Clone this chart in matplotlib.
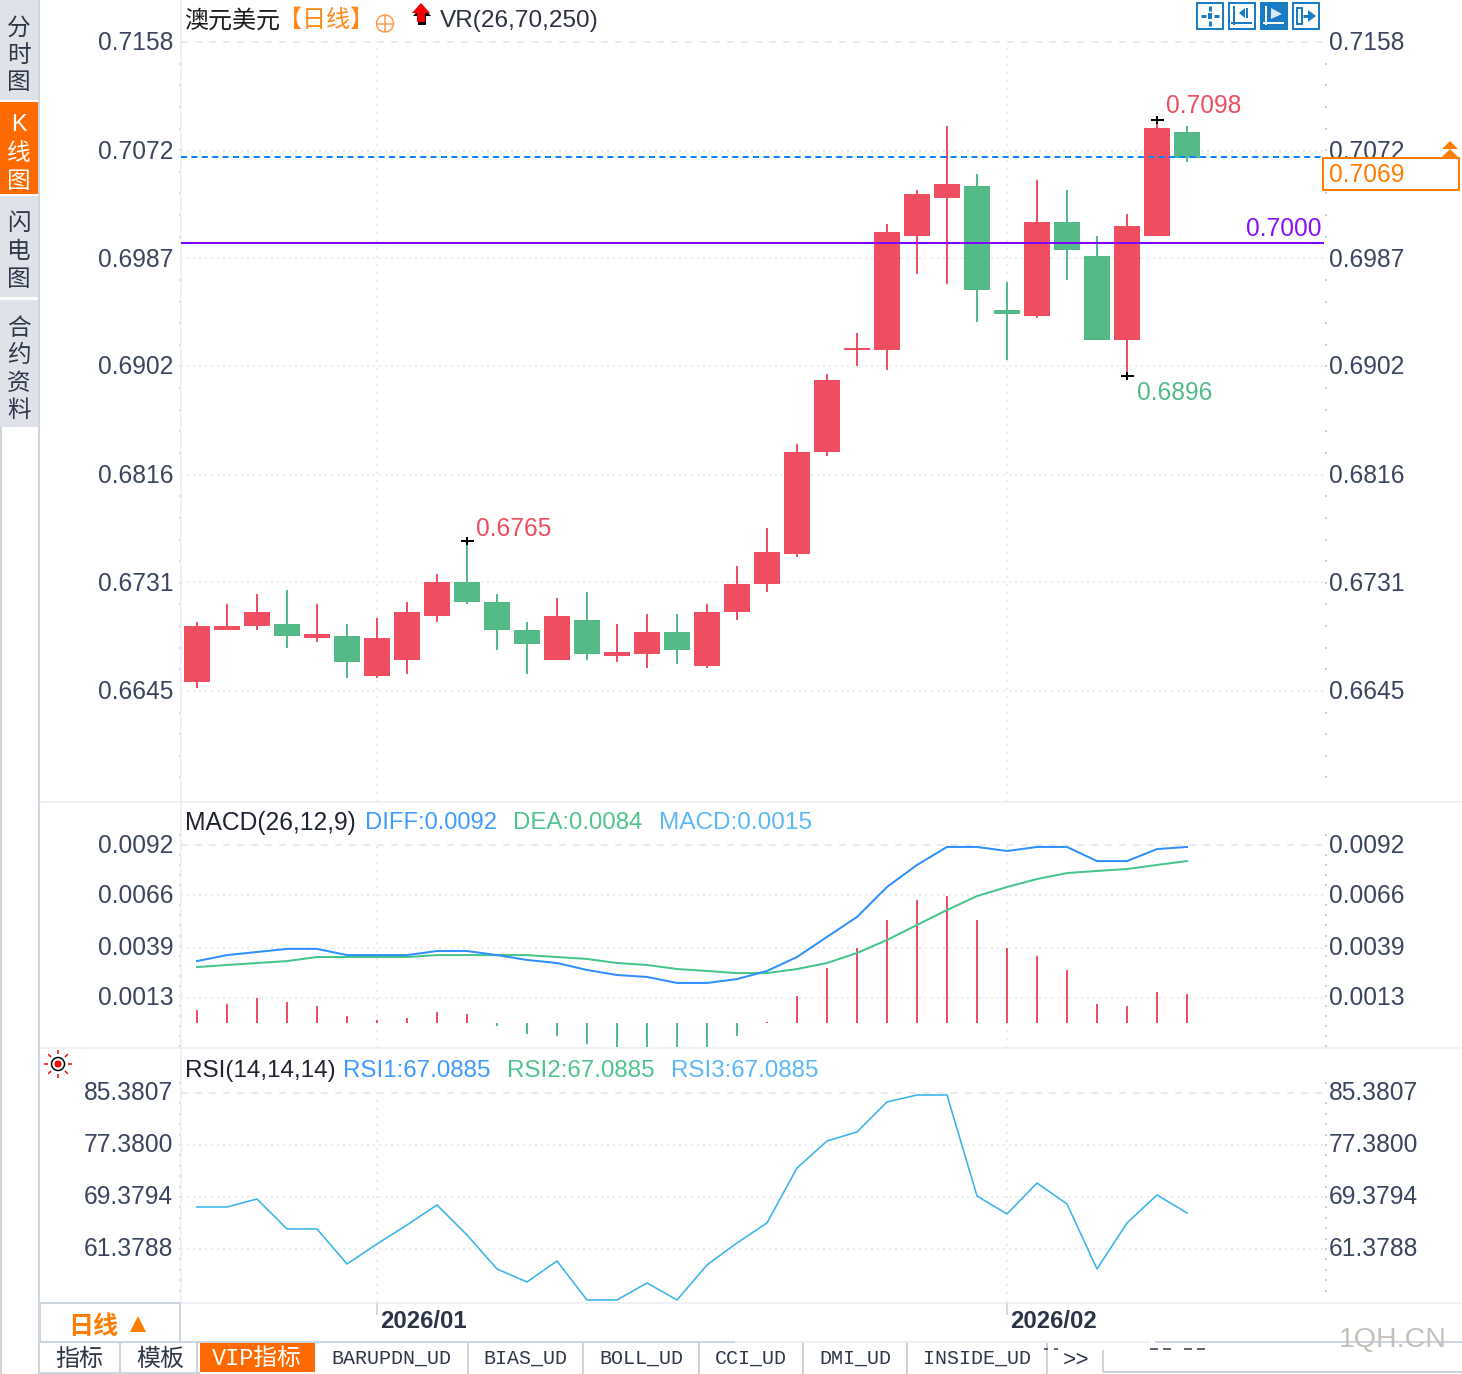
import matplotlib
matplotlib.use("Agg")

import matplotlib.pyplot as plt
from matplotlib.patches import Circle, Polygon, Rectangle
from matplotlib.transforms import ScaledTranslation

plt.rcParams["font.family"] = ["Liberation Sans", "Noto Sans CJK SC", "DejaVu Sans"]

# candles, one per day
opens = [0.66521, 0.66932, 0.66964, 0.66979, 0.66869, 0.66884, 0.66568, 0.66695, 0.67043, 0.67311,
         0.67153, 0.66932, 0.66695, 0.67011, 0.66726, 0.66742, 0.66916, 0.66647, 0.67074, 0.67295,
         0.67533, 0.68339, 0.69145, 0.69145, 0.70046, 0.70347, 0.70442, 0.69461, 0.69414, 0.70157,
         0.69888, 0.69224, 0.70046, 0.70869]
closes = [0.66964, 0.66964, 0.67074, 0.66884, 0.66900, 0.66679, 0.66869, 0.67074, 0.67311, 0.67153,
          0.66932, 0.66821, 0.67043, 0.66742, 0.66758, 0.66916, 0.66774, 0.67074, 0.67295, 0.67548,
          0.68339, 0.68908, 0.69161, 0.70078, 0.70378, 0.70457, 0.69620, 0.69430, 0.70157, 0.69936,
          0.69224, 0.70125, 0.70900, 0.70663]
highs = [0.66995, 0.67137, 0.67216, 0.67248, 0.67137, 0.66979, 0.67027, 0.67153, 0.67375, 0.67635,
         0.67216, 0.66995, 0.67185, 0.67232, 0.66979, 0.67058, 0.67058, 0.67137, 0.67438, 0.67738,
         0.68402, 0.68956, 0.69280, 0.70141, 0.70410, 0.70916, 0.70537, 0.69683, 0.70489, 0.70410,
         0.70046, 0.70220, 0.70963, 0.70916]
lows = [0.66473, 0.66932, 0.66932, 0.66790, 0.66837, 0.66552, 0.66552, 0.66584, 0.66995, 0.67137,
        0.66774, 0.66584, 0.66695, 0.66695, 0.66679, 0.66631, 0.66663, 0.66631, 0.67011, 0.67232,
        0.67509, 0.68307, 0.69019, 0.68987, 0.69746, 0.69667, 0.69367, 0.69066, 0.69398, 0.69699,
        0.69224, 0.68940, 0.70046, 0.70631]

# lower panels
diff = [0.00320, 0.00351, 0.00367, 0.00383, 0.00383, 0.00351, 0.00351, 0.00351, 0.00372, 0.00372,
        0.00351, 0.00326, 0.00310, 0.00274, 0.00248, 0.00238, 0.00207, 0.00207, 0.00227, 0.00269,
        0.00341, 0.00445, 0.00548, 0.00703, 0.00817, 0.00910, 0.00910, 0.00889, 0.00910, 0.00910,
        0.00837, 0.00837, 0.00899, 0.00910]
dea = [0.00289, 0.00300, 0.00310, 0.00320, 0.00341, 0.00341, 0.00341, 0.00341, 0.00351, 0.00351,
       0.00351, 0.00351, 0.00341, 0.00331, 0.00310, 0.00300, 0.00279, 0.00269, 0.00258, 0.00258,
       0.00279, 0.00310, 0.00362, 0.00429, 0.00507, 0.00584, 0.00656, 0.00703, 0.00744, 0.00775,
       0.00786, 0.00796, 0.00817, 0.00837]
macd_hist = [0.00067, 0.00098, 0.00129, 0.00109, 0.00088, 0.00036, 0.00016, 0.00026, 0.00057, 0.00047,
             -0.00016, -0.00057, -0.00067, -0.00109, -0.00134, -0.00145, -0.00145, -0.00124, -0.00067, 0.00005,
             0.00140, 0.00284, 0.00388, 0.00532, 0.00636, 0.00656, 0.00532, 0.00388, 0.00346, 0.00274,
             0.00098, 0.00088, 0.00160, 0.00150]
rsi = [67.84, 67.84, 69.07, 64.46, 64.46, 59.07, 62.15, 65.07, 68.15, 63.53,
       58.30, 56.30, 59.53, 53.53, 53.53, 56.15, 53.53, 58.92, 62.30, 65.38,
       73.84, 77.99, 79.38, 84.00, 85.07, 85.07, 69.53, 66.76, 71.53, 68.30,
       58.30, 65.38, 69.69, 66.92]

price_ticks = [0.7158, 0.7072, 0.6987, 0.6902, 0.6816, 0.6731, 0.6645]
price_labels = ["0.7158", "0.7072", "0.6987", "0.6902", "0.6816", "0.6731", "0.6645"]
macd_ticks = [0.0092, 0.0066, 0.0039, 0.0013]
macd_labels = ["0.0092", "0.0066", "0.0039", "0.0013"]
rsi_ticks = [85.3807, 77.38, 69.3794, 61.3788]
rsi_labels = ["85.3807", "77.3800", "69.3794", "61.3788"]
month_pos = [6, 27]
month_labels = ["2026/01", "2026/02"]
last_price = 0.70671
ref_price = 0.69991
marked = [(9, 0.67635), (31, 0.68940), (32, 0.70963)]

RED = "#ee4e5f"
GREEN = "#53ba88"
GRID = "#e8ecf0"
AXIS = "#edf1f5"
BORDER = "#cdd6df"
TICK = "#3b4560"
DARK = "#2f3848"
ORANGE = "#ff7d00"
LBLUE = "#3f9bff"
LGREEN = "#4fc48d"
SKY = "#5bb8f5"

W, H = 1462, 1374
fig = plt.figure(figsize=(W / 100, H / 100), dpi=100, facecolor="white")
PX = 0.72  # one pixel in points


def panel(top, bottom, ylim, ticks, labels, minor, lift):
    a = fig.add_axes([181 / W, 1 - bottom / H, (1325 - 181) / W, (bottom - top) / H])
    a.set_xlim(-0.533, 37.6)
    a.set_ylim(*ylim)
    a.patch.set_alpha(0)
    for s in ["top", "right", "bottom"]:
        a.spines[s].set_visible(False)
    a.spines["left"].set_color(AXIS)
    a.spines["left"].set_linewidth(2 * PX)
    a.set_xticks([])
    a.set_yticks(ticks, labels)
    a.tick_params(axis="y", length=0, pad=5.5, labelsize=17.7, labelcolor=TICK,
                  left=False, labelleft=True, labelright=True)
    a.set_yticks(minor, minor=True)
    a.tick_params(axis="y", which="minor", length=2 * PX, width=2 * PX, color="#c9d0d8",
                  left=True, right=True)
    # nudge the tick labels to where the reference has them
    left_off = ScaledTranslation(0, lift * PX / 72, fig.dpi_scale_trans)
    right_off = ScaledTranslation(-4 * PX / 72, lift * PX / 72, fig.dpi_scale_trans)
    for t in a.yaxis.get_major_ticks():
        t.label1.set_transform(t.label1.get_transform() + left_off)
        t.label2.set_transform(t.label2.get_transform() + right_off)
    a.axhline(ticks[0], xmax=0.998, color=GRID, lw=2 * PX, ls=(0, (3.5, 3.5)), zorder=1)
    for t in ticks[1:]:
        a.axhline(t, xmax=0.998, color=GRID, lw=2 * PX, ls=(0, (1, 2)), zorder=1)
    for m in month_pos:
        a.vlines(m, ylim[0], ticks[0], color=GRID, lw=2 * PX, ls=(0, (1, 3)), zorder=1)
    return a


def minor_ticks(first, step, lo, hi):
    out = []
    v = first
    while v > lo:
        if v < hi:
            out.append(v)
        v -= step
    return out


days = list(range(len(opens)))

# main panel
ax = panel(0, 802, (0.65572, 0.71912), price_ticks, price_labels,
           minor_ticks(0.7158 + 0.00171, 0.00171, 0.6565, 0.7175), 1)
for i in days:
    col = RED if closes[i] >= opens[i] else GREEN
    ax.vlines(i, lows[i], highs[i], color=col, lw=2 * PX, zorder=3)
    ax.bar(i, abs(closes[i] - opens[i]), bottom=min(opens[i], closes[i]), width=26 / 30,
           color=col, linewidth=0, zorder=3)
ax.axhline(ref_price, xmax=0.998, color="#8000ff", lw=2 * PX, zorder=4)
ax.axhline(last_price, xmax=0.998, color="#0a84ff", lw=2 * PX, ls=(0, (3, 2.2)), zorder=4)
for i, p in marked:
    ax.plot(i, p, marker="_", ms=13 * PX, mew=2 * PX, color="black", zorder=5)
    ax.plot(i, p, marker="|", ms=8 * PX, mew=2 * PX, color="black", zorder=5)
ax.annotate("0.7098", (32, 0.70963), xytext=(6.8, 9.8), textcoords="offset points",
            color=RED, fontsize=17.7, va="center")
ax.annotate("0.6896", (31, 0.68940), xytext=(7, -12), textcoords="offset points",
            color=GREEN, fontsize=17.7, va="center")
ax.annotate("0.6765", (9, 0.67635), xytext=(6.4, 9), textcoords="offset points",
            color=RED, fontsize=17.7, va="center")
ax.annotate("0.7000", (37.5, ref_price), xytext=(0, 10), textcoords="offset points",
            color="#8a12f0", fontsize=17.7, ha="right", va="center")

# macd panel
k = 5.169e-5
mx = panel(803, 1048, (-25 * k, 220 * k), macd_ticks, macd_labels,
           minor_ticks(0.0092 + 0.00052, 0.00052, -0.0012, 0.0108), 2)
for i in days:
    mx.vlines(i, 0, macd_hist[i], color=RED if macd_hist[i] >= 0 else GREEN, lw=2 * PX, zorder=2)
mx.plot(days, dea, color="#45c48c", lw=2 * PX, zorder=3)
mx.plot(days, diff, color="#2f8fff", lw=2 * PX, zorder=3)

# rsi panel
rx = panel(1048, 1302, (53.22, 92.30), rsi_ticks, rsi_labels,
           minor_ticks(85.3807 + 1.6, 1.6, 54.0, 91.0), 2)
rx.plot(days, rsi, color="#38b4e8", lw=1.6 * PX, zorder=3)

# window furniture, drawn in pixels
ov = fig.add_axes([0, 0, 1, 1], zorder=10)
ov.set_xlim(0, W)
ov.set_ylim(H, 0)
ov.axis("off")
ov.patch.set_alpha(0)


def box(x0, y0, x1, y1, face="none", edge="none", lw=0):
    ov.add_patch(Rectangle((x0, y0), x1 - x0, y1 - y0, facecolor=face, edgecolor=edge, linewidth=lw * PX))


def line(xs, ys, color=BORDER, lw=2):
    ov.plot(xs, ys, color=color, lw=lw * PX, solid_capstyle="butt")


def txt(x, y, s, color=DARK, size=17.3, ha="left", **kw):
    # centre of the glyphs sits 2px above the text box centre
    ov.text(x, y + 2, s, color=color, fontsize=size, ha=ha, va="center", **kw)


# sidebar
box(0, 0, 38, 100, face="#e0e2ea")
box(0, 102, 38, 194, face="#ff6a00")
box(0, 196, 38, 297, face="#e0e2ea")
box(0, 300, 38, 427, face="#e0e2ea")
line([1, 1], [427, 1374])
line([39, 39], [0, 1374])
for y, s, c in [(27, "分", DARK), (54, "时", DARK), (81, "图", DARK),
                (123, "K", "white"), (152, "线", "white"), (180, "图", "white"),
                (222, "闪", DARK), (250, "电", DARK), (278, "图", DARK),
                (327, "合", DARK), (354, "约", DARK), (382, "资", DARK), (409, "料", DARK)]:
    txt(19, y, s, color=c, size=17, ha="center")

# panel separators
line([40, W], [802, 802], color=AXIS)
line([40, W], [1048, 1048], color=AXIS)
line([181, W], [1303, 1303], color=AXIS)
for x in [377, 1007]:
    line([x, x], [1303, 1315], color="#d3d9e0")

# headers
txt(184, 19, "澳元美元", color="#1c1c1c", size=17.3)
txt(278, 19, "【日线】", color="#ff8a1a", size=17.3)
ov.add_patch(Circle((385, 23.5), 8.5, fill=False, edgecolor="#ff9a4a", linewidth=1.5 * PX))
line([376.5, 393.5], [23.5, 23.5], color="#ff9a4a", lw=1.5)
line([385, 385], [15, 32], color="#ff9a4a", lw=1.5)
arrow = [(421, 3), (430, 13), (425, 13), (425, 22), (417, 22), (417, 13), (412, 13)]
ov.add_patch(Polygon([(x + 1, y + 3) for x, y in arrow], facecolor="black", edgecolor="none"))
ov.add_patch(Polygon(arrow, facecolor="#f40000", edgecolor="none"))
txt(440, 19, "VR(26,70,250)", color="#2c3142", size=17.6)

txt(185, 821, "MACD(26,12,9)", color="#1f2430", size=17.7)
txt(365, 821, "DIFF:0.0092", color=LBLUE, size=17.1)
txt(513, 821, "DEA:0.0084", color=LGREEN, size=17.3)
txt(659, 821, "MACD:0.0015", color=SKY, size=17.6)
txt(185, 1069, "RSI(14,14,14)", color="#1f2430", size=17.5)
txt(343, 1069, "RSI1:67.0885", color=LBLUE, size=17.4)
txt(507, 1069, "RSI2:67.0885", color=LGREEN, size=17.4)
txt(671, 1069, "RSI3:67.0885", color=SKY, size=17.4)

# toolbar buttons
BLUE = "#1a7cc4"
for x0, filled in [(1197, False), (1229, False), (1261, True), (1293, False)]:
    box(x0, 3, x0 + 26, 29, face=BLUE if filled else "white", edge=BLUE, lw=2)
fg = "white"
box(1208, 13, 1212, 19, face=BLUE)
for xs, ys in [([1201, 1206], [16, 16]), ([1214, 1219], [16, 16]), ([1210, 1210], [6, 11]), ([1210, 1210], [21, 26])]:
    line(xs, ys, color=BLUE, lw=3)
line([1234, 1234], [6, 25], color=BLUE)
line([1231, 1252], [23, 23], color=BLUE)
ov.add_patch(Polygon([(1239, 13), (1245, 8), (1245, 18)], facecolor=BLUE, edgecolor="none"))
line([1247, 1247], [8, 18], color=BLUE)
line([1266, 1266], [6, 25], color=fg)
line([1263, 1284], [23, 23], color=fg)
ov.add_patch(Polygon([(1271, 8), (1271, 19), (1282, 14)], facecolor="#d8e8f5", edgecolor="none"))
box(1297, 8, 1302, 24, edge=BLUE, lw=2)
line([1303, 1310], [16, 16], color=BLUE, lw=3)
ov.add_patch(Polygon([(1308, 10), (1316, 16), (1308, 22)], facecolor=BLUE, edgecolor="none"))

# last price box
box(1323, 158, 1459, 190, face="white", edge=ORANGE, lw=2)
txt(1329, 173, "0.7069", color=ORANGE, size=17.7)
ov.add_patch(Polygon([(1442, 149), (1450, 141), (1458, 149)], facecolor=ORANGE, edgecolor="none"))
ov.add_patch(Polygon([(1442, 157), (1450, 149), (1458, 157)], facecolor=ORANGE, edgecolor="none"))

# sun icon by the rsi panel
ov.add_patch(Circle((58, 1064), 6.5, fill=False, edgecolor="black", linewidth=1.5 * PX))
ov.add_patch(Circle((58, 1064), 3.5, facecolor="#f00000", edgecolor="none"))
for dx, dy in [(1, 0), (-1, 0), (0, 1), (0, -1), (0.7, 0.7), (-0.7, 0.7), (0.7, -0.7), (-0.7, -0.7)]:
    line([58 + 10 * dx, 58 + 14 * dx], [1064 + 10 * dy, 1064 + 14 * dy], color="#f00000", lw=1.5)

# date axis
for m, s in zip(month_pos, month_labels):
    txt(380 if m == month_pos[0] else 1010, 1319, s, color="#2b3448", size=17.2, weight="bold")
box(40, 1303, 180, 1342, edge=BORDER, lw=2)
txt(68, 1325, "日线", color=ORANGE, size=18, weight="bold")
ov.add_patch(Polygon([(130, 1332), (138, 1316), (146, 1332)], facecolor=ORANGE, edgecolor="none"))

# tabs
line([40, 735], [1342, 1342])
line([735, 1150], [1342, 1342], color=AXIS)
line([1155, W], [1342, 1342])
box(200, 1342, 315, 1372, face="#ff6a00")
for x in [120, 197, 468, 583, 699, 803, 907, 1047]:
    line([x, x], [1343, 1374], color=BORDER)
line([1103, 1103], [1350, 1372])
line([1103, W], [1372, 1372])
line([40, 200], [1373, 1373])
txt(79, 1358, "指标", size=17.3, ha="center")
txt(160, 1358, "模板", size=17.3, ha="center")
ov.text(257, 1358, "VIP指标", color="white", ha="center", va="center", fontsize=17,
        family=["Liberation Mono", "Noto Sans CJK SC"])
for x, s in [(391, "BARUPDN_UD"), (525, "BIAS_UD"), (641, "BOLL_UD"), (751, "CCI_UD"),
             (855, "DMI_UD"), (977, "INSIDE_UD")]:
    ov.text(x, 1358, s, color=DARK, ha="center", va="center", fontsize=14.4, family="Liberation Mono")
txt(1076, 1358, ">>", size=16, ha="center", family="Liberation Mono")
for xs in [(1044, 1048), (1054, 1058), (1150, 1158), (1163, 1171), (1184, 1192), (1197, 1205)]:
    line(xs, [1349, 1349], color=DARK, lw=1.5)
txt(1393, 1338, "1QH.CN", color="#c4c0bb", size=20.5, ha="center")

plt.savefig("out.png", dpi=100)
plt.close()
print("saved: out.png")
